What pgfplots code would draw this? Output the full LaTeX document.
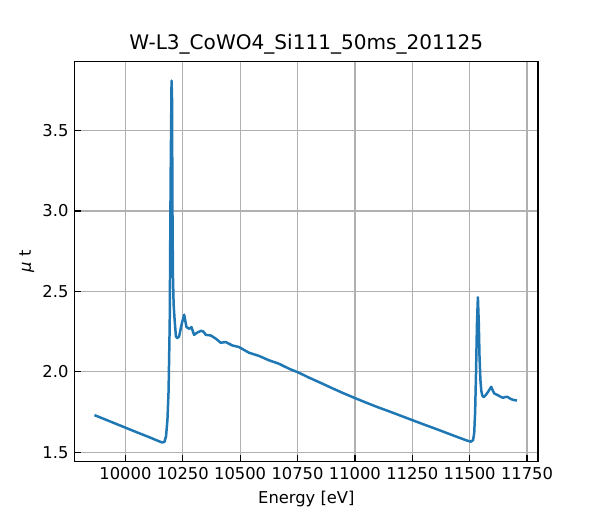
\documentclass[border=0pt]{standalone}
\usepackage{pgfplots}
\pgfplotsset{compat=1.18}
\usepackage{fontspec}
\setmainfont{DejaVu Sans}
\definecolor{mplblue}{HTML}{1F77B4}
\definecolor{mplgrid}{HTML}{B0B0B0}
\begin{document}
\begin{tikzpicture}
\begin{axis}[
  at={(0,0)}, anchor=south west,
  scale only axis,
  width=334.8pt, height=288.7pt,
  xmin=9779, xmax=11798, ymin=1.444, ymax=3.927,
  xtick={10000,10250,10500,10750,11000,11250,11500,11750},
  ytick={1.5,2.0,2.5,3.0,3.5},
  yticklabels={1.5,2.0,2.5,3.0,3.5},
  xticklabels={10000,10250,10500,10750,11000,11250,11500,11750},
  scaled x ticks=false,
  tick align=inside,
  xtick pos=bottom, ytick pos=left,
  major tick length=4.2pt,
  every tick/.style={black, line width=0.95pt},
  axis line style={black, line width=0.95pt},
  grid=major,
  major grid style={mplgrid, line width=0.95pt},
  tick label style={font=\fontsize{11.8}{14}\selectfont},
  /pgf/number format/assume math mode=true,
  xticklabel style={yshift=-1pt},
  yticklabel style={xshift=-1pt},
  xlabel={Energy [eV]},
  ylabel={{\itshape μ} t},
  xlabel style={yshift=-1.5pt},
  ylabel style={yshift=-1pt},
  label style={font=\fontsize{11.8}{14}\selectfont},
  title={W-L3\_CoWO4\_Si111\_50ms\_201125},
  title style={font=\fontsize{14.5}{17}\selectfont, yshift=-4pt},
]
\addplot[mplblue, line width=1.8pt, line join=round] coordinates {
(9865,1.731)(9950,1.682)(10050,1.624)(10100,1.596)(10140,1.572)(10160,1.561)
(10170,1.565)(10177,1.60)(10183,1.70)(10188,1.88)(10193,2.30)(10197,3.20)
(10201,3.81)(10203,3.70)(10205,3.00)(10207,2.60)(10210,2.42)(10214,2.33)
(10220,2.22)(10226,2.21)(10234,2.22)(10244,2.29)(10256,2.355)(10266,2.278)
(10278,2.268)(10288,2.278)(10299,2.23)(10314,2.245)(10330,2.255)(10340,2.25)
(10350,2.23)(10372,2.226)(10394,2.206)(10415,2.181)(10437,2.185)(10466,2.164)
(10495,2.154)(10538,2.119)(10582,2.099)(10625,2.072)(10668,2.051)(10712,2.02)
(10755,1.995)(10800,1.964)(10850,1.932)(10900,1.899)(10950,1.867)(11000,1.837)
(11050,1.808)(11100,1.780)(11150,1.754)(11200,1.727)(11250,1.700)(11300,1.673)
(11350,1.647)(11400,1.620)(11450,1.593)(11490,1.572)(11505,1.566)(11515,1.575)
(11520,1.62)(11524,1.75)(11528,2.00)(11532,2.30)(11536,2.464)(11540,2.30)
(11543,2.10)(11547,1.95)(11551,1.88)(11556,1.85)(11562,1.843)(11570,1.855)
(11580,1.875)(11594,1.907)(11602,1.88)(11608,1.865)(11623,1.855)(11635,1.845)
(11645,1.839)(11655,1.843)(11664,1.845)(11681,1.83)(11695,1.824)(11706,1.822)
};
\end{axis}
\path[use as bounding box] (-54pt,-41.04pt) rectangle (379.6pt,333.36pt);
\end{tikzpicture}
\end{document}
